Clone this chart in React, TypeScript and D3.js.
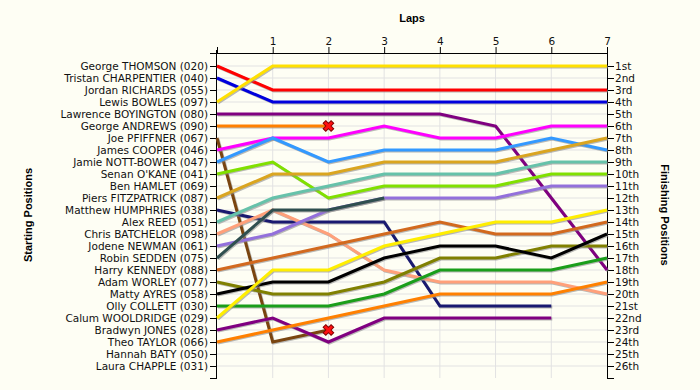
import * as d3 from "d3";

const drivers = [
  "George THOMSON (020)",
  "Tristan CHARPENTIER (040)",
  "Jordan RICHARDS (055)",
  "Lewis BOWLES (097)",
  "Lawrence BOYINGTON (080)",
  "George ANDREWS (090)",
  "Joe PFIFFNER (067)",
  "James COOPER (046)",
  "Jamie NOTT-BOWER (047)",
  "Senan O'KANE (041)",
  "Ben HAMLET (069)",
  "Piers FITZPATRICK (087)",
  "Matthew HUMPHRIES (038)",
  "Alex REED (051)",
  "Chris BATCHELOR (098)",
  "Jodene NEWMAN (061)",
  "Robin SEDDEN (075)",
  "Harry KENNEDY (088)",
  "Adam WORLEY (077)",
  "Matty AYRES (058)",
  "Olly COLLETT (030)",
  "Calum WOOLDRIDGE (029)",
  "Bradwyn JONES (028)",
  "Theo TAYLOR (066)",
  "Hannah BATY (050)",
  "Laura CHAPPLE (031)",
];

// position at lap 0..7 (lap 0 = grid); empty = no line
const lapPositions: number[][] = [
  [1, 3, 3, 3, 3, 3, 3, 3],
  [2, 4, 4, 4, 4, 4, 4, 4],
  [],
  [4, 1, 1, 1, 1, 1, 1, 1],
  [5, 5, 5, 5, 5, 6, 12, 18],
  [6, 6, 6],
  [7, 24, 23],
  [8, 7, 7, 6, 7, 7, 6, 6],
  [9, 7, 9, 8, 8, 8, 7, 8],
  [10, 9, 12, 11, 11, 11, 10, 10],
  [],
  [12, 10, 10, 9, 9, 9, 8, 7],
  [13, 14, 14, 14, 21, 21, 21],
  [14, 12, 11, 10, 10, 10, 9, 9],
  [15, 13, 15, 18, 19, 19, 19, 20],
  [16, 15, 13, 12, 12, 12, 11, 11],
  [17, 13, 13, 12],
  [18, 17, 16, 15, 14, 15, 15, 14],
  [19, 20, 20, 19, 17, 17, 16, 16],
  [20, 19, 19, 17, 16, 16, 17, 15],
  [21, 21, 21, 20, 18, 18, 18, 17],
  [22, 18, 18, 16, 15, 14, 14, 13],
  [23, 22, 24, 22, 22, 22, 22],
  [24, 23, 22, 21, 20, 20, 20, 19],
  [],
  [],
];

const lineColors = [
  "#ff0000", "#0000dd", "#000000", "#ffe000", "#800080", "#ff8000",
  "#7a4510", "#ff00ff", "#3399ff", "#80e000", "#000000", "#daa520",
  "#191970", "#66c2aa", "#ffa07a", "#9370db", "#2f4f4f", "#d2691e",
  "#808000", "#000000", "#1a9e1a", "#ffee00", "#800080", "#ff8000",
  "#000000", "#000000",
];

const crashedDrivers = ["George ANDREWS (090)", "Joe PFIFFNER (067)"];

const lapTicks = [1, 2, 3, 4, 5, 6, 7];

const finishLabels = [
  "1st", "2nd", "3rd", "4th", "5th", "6th", "7th", "8th", "9th", "10th",
  "11th", "12th", "13th", "14th", "15th", "16th", "17th", "18th", "19th",
  "20th", "21st", "22nd", "23rd", "24th", "25th", "26th",
];

const W = 700;
const H = 390;
const tickFont = "'DejaVu Sans', Verdana, sans-serif";
const titleFont = "'Liberation Sans', Arial, sans-serif";

export default function App() {
  const x = d3.scaleLinear().domain([0, 7]).range([217, 607]);
  const y = d3.scaleLinear().domain([0, 27]).range([54, 378]);
  const rows = d3.range(1, 27);

  const line = d3
    .line<number>()
    .x((_, i) => x(i))
    .y((d) => y(d));

  const cross = d3.symbol().type(d3.symbolCross).size(70)();

  return (
    <svg
      width={W}
      height={H}
      style={{ position: "absolute", left: 0, top: 0, background: "#fefef4" }}
    >
      <rect width={W} height={H} fill="#fefef4" />

      {/* grid */}
      {rows.map((r) => (
        <line key={"h" + r} x1={x(0)} x2={x(7)} y1={y(r)} y2={y(r)} stroke="#e2e2e2" />
      ))}
      {d3.range(1, 7).map((l) => (
        <line key={"v" + l} x1={x(l)} x2={x(l)} y1={y(0)} y2={y(27)} stroke="#e2e2e2" />
      ))}

      {/* axes */}
      <line x1={210} x2={x(7)} y1={53.5} y2={53.5} stroke="#000" />
      <line x1={x(0) - 0.5} x2={x(0) - 0.5} y1={50} y2={y(27)} stroke="#000" />
      <line x1={x(7) + 0.5} x2={x(7) + 0.5} y1={53} y2={y(27)} stroke="#000" />
      {[0, ...lapTicks].map((l) => (
        <line key={"tt" + l} x1={x(l) + 0.5} x2={x(l) + 0.5} y1={47} y2={53} stroke="#000" />
      ))}
      <g fontFamily={tickFont} fontSize={10.5} fill="#111">
        {lapTicks.map((l) => (
          <text key={"tl" + l} x={x(l) + 0.5} y={45} textAnchor="middle">
            {l}
          </text>
        ))}
        {drivers.map((d, i) => (
          <text key={"dl" + i} x={x(0) - 9} y={y(i + 1)} dy="0.36em" textAnchor="end">
            {d}
          </text>
        ))}
        {finishLabels.map((f, i) => (
          <text key={"fl" + i} x={x(7) + 8} y={y(i + 1)} dy="0.36em">
            {f}
          </text>
        ))}
      </g>
      {[...rows, 27].map((r) => (
        <g key={"lt" + r}>
          <line x1={x(0) - 7} x2={x(0)} y1={y(r) + 0.5} y2={y(r) + 0.5} stroke="#000" />
          <line x1={x(7)} x2={x(7) + 7} y1={y(r) + 0.5} y2={y(r) + 0.5} stroke="#000" />
        </g>
      ))}

      {/* titles */}
      <g fontFamily={titleFont} fontSize={11} fontWeight="bold" fill="#000" textAnchor="middle">
        <text x={412} y={22}>
          Laps
        </text>
        <text transform="translate(32,215) rotate(-90)">Starting Positions</text>
        <text transform="translate(661,215) rotate(90)">Finishing Positions</text>
      </g>

      {/* position lines */}
      {lapPositions.map((p, i) =>
        p.length > 1 ? (
          <g key={"ln" + i}>
            <path
              d={line(p) ?? ""}
              transform="translate(1,1)"
              fill="none"
              stroke="#8a8a8a"
              strokeOpacity={0.6}
              strokeWidth={3}
            />
            <path d={line(p) ?? ""} fill="none" stroke={lineColors[i]} strokeWidth={3} />
          </g>
        ) : null
      )}

      {/* retirements */}
      {drivers.map((d, i) => {
        if (!crashedDrivers.includes(d)) return null;
        const p = lapPositions[i];
        const last = p.length - 1;
        return (
          <path
            key={"x" + i}
            d={cross ?? ""}
            transform={`translate(${x(last)},${y(p[last])}) rotate(45)`}
            fill="#ff1010"
            stroke="#800000"
            strokeWidth={1}
          />
        );
      })}
    </svg>
  );
}
